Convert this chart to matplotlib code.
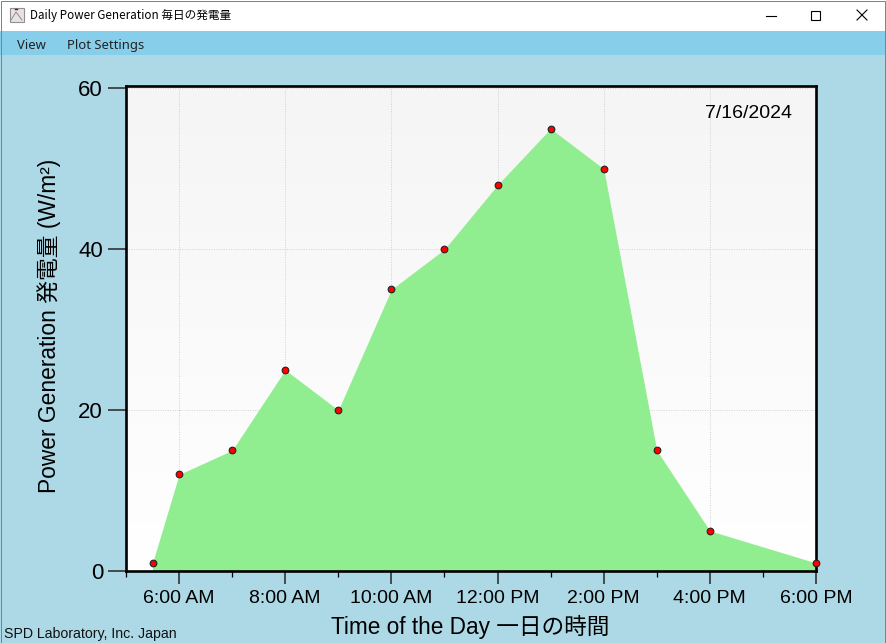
import numpy as np
import matplotlib
matplotlib.use("Agg")
import matplotlib.pyplot as plt
from matplotlib.patches import Rectangle

plt.rcParams['font.family'] = ['Liberation Sans', 'Noto Sans CJK JP', 'DejaVu Sans']

W, H = 886, 643

# data
hours = [5.5, 6, 7, 8, 9, 10, 11, 12, 13, 14, 15, 16, 18]
power = [1, 12, 15, 25, 20, 35, 40, 48, 55, 50, 15, 5, 1]
major_hours = [6, 8, 10, 12, 14, 16, 18]
minor_hours = [5, 7, 9, 11, 13, 15, 17]
hour_labels = ["6:00 AM", "8:00 AM", "10:00 AM", "12:00 PM", "2:00 PM", "4:00 PM", "6:00 PM"]
y_ticks = [0, 20, 40, 60]

fig = plt.figure(figsize=(W / 100, H / 100), dpi=100, facecolor="#ADD8E6")

# window chrome, in pixel coordinates
bg = fig.add_axes([0, 0, 1, 1], zorder=0)
bg.set_xlim(0, W)
bg.set_ylim(H, 0)
bg.axis("off")
bg.add_patch(Rectangle((0, 0), W, 31, color="white", lw=0))
bg.add_patch(Rectangle((0, 31), W, 24, color="#87CEEB", lw=0))
bg.add_patch(Rectangle((0.5, 0.5), W - 1, H - 1, fill=False, ec="#808080", lw=0.7))

# title bar icon
bg.add_patch(Rectangle((10, 8), 14, 14, fc="#E4E4E4", ec="#909090", lw=0.8))
bg.plot([11, 16, 22], [20, 12, 20], color="#B08080", lw=0.7)
bg.plot([15, 17], [9, 9], color="#303030", lw=1)

# minimize / maximize / close buttons
bg.plot([766, 776], [15.5, 15.5], color="black", lw=0.8)
bg.add_patch(Rectangle((811.5, 10.5), 9, 9, fill=False, ec="black", lw=0.8))
bg.plot([857, 867], [10, 20], color="black", lw=0.8)
bg.plot([857, 867], [20, 10], color="black", lw=0.8)

bg.text(30, 16, "Daily Power Generation 毎日の発電量", fontsize=8.4, family=['Noto Sans CJK JP'],
        va="center", ha="left", color="black")
bg.text(17, 45.5, "View", fontsize=9.4, family=['Noto Sans'], va="center", ha="left", color="#222222")
bg.text(67, 45.5, "Plot Settings", fontsize=9.4, family=['Noto Sans'], va="center", ha="left", color="#222222")
bg.text(4, 634, "SPD Laboratory, Inc. Japan", fontsize=10.2, va="center", ha="left", color="#111111")

# plot area
left, right, top, bottom = 126, 816, 86, 571
ax = fig.add_axes([left / W, 1 - bottom / H, (right - left) / W, (bottom - top) / H], zorder=1)
ax.set_xlim(5, 18)
ax.set_ylim(0, 60.3)

grad = np.linspace(0, 1, 256).reshape(-1, 1)
ax.imshow(grad, extent=(5, 18, 0, 60.3), aspect="auto", origin="upper",
          cmap=matplotlib.colors.LinearSegmentedColormap.from_list("g", ["#F5F5F5", "#FFFFFF"]), zorder=0)

ax.set_axisbelow(True)
ax.grid(True, which="major", color="#D0D0D0", linestyle=(0, (1, 1.5)), linewidth=0.7)
ax.fill_between(hours, power, 0, color="#90EE90", lw=0, zorder=2)
ax.plot(hours, power, linestyle="none", marker="o", markersize=4.8, markerfacecolor="red",
        markeredgecolor="#222222", markeredgewidth=0.8, clip_on=False, zorder=4)

for s in ax.spines.values():
    s.set_linewidth(1.9)
    s.set_color("black")
    s.set_zorder(3)

ax.set_xticks(major_hours)
ax.set_xticklabels(hour_labels)
ax.set_xticks(minor_hours, minor=True)
ax.set_yticks(y_ticks)
ax.tick_params(axis="x", which="major", length=9, width=1.2, color="#333333", labelsize=14, pad=4.5)
ax.tick_params(axis="x", which="minor", length=4.5, width=0.9, color="black")
ax.tick_params(axis="y", which="major", length=13, width=1.2, color="#333333", labelsize=16, pad=3.5)

ax.text(17.55, 56.9, "7/16/2024", fontsize=14, ha="right", va="center", color="black", zorder=5)

fig.text(470 / W, 1 - 627 / H, "Time of the Day 一日の時間", fontsize=16.3, ha="center", va="center")
fig.text(49.5 / W, 1 - 326 / H, "Power Generation 発電量 (W/m²)", fontsize=16.4, rotation=90, ha="center", va="center")

fig.savefig("out.png", dpi=100, facecolor=fig.get_facecolor())
